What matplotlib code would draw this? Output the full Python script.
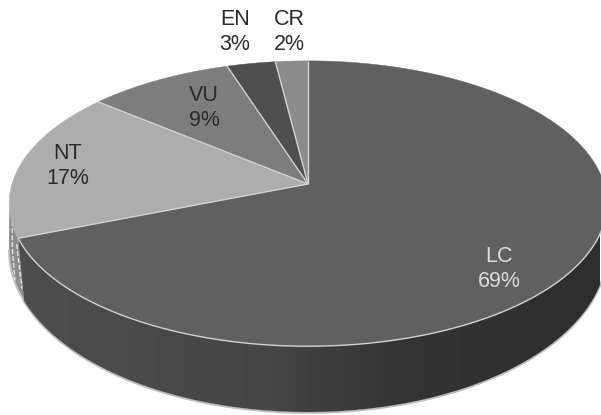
import numpy as np
import matplotlib
matplotlib.use("Agg")
import matplotlib.pyplot as plt
from matplotlib.colors import LinearSegmentedColormap
from matplotlib.patches import Polygon

# IUCN category shares, clockwise from twelve o'clock
categories = ["LC", "NT", "VU", "EN", "CR"]
shares = [69, 17, 9, 3, 2]
face_colors = ["#5f605f", "#adadad", "#7d7d7d", "#4f4f4f", "#8c8c8c"]
label_colors = ["#dcdcdc", "#2a2a2a", "#2a2a2a", "#2a2a2a", "#2a2a2a"]
label_anchor = [(499, 269), (68, 166), (204, 108), (235, 32), (289, 32)]

# Perspective of the tilted disc, in pixel units
APEX = (308.0, 184.0)
SCALE_X, SCALE_Y, TILT = 296.0, 140.0, 0.137
TOP_C = (308.0, 203.5)
TOP_R = (299.0, 142.5)
BOTTOM_C = (308.0, 250.0)
BOTTOM_R = (299.0, 162.0)
WALL_FOOT_X = 24.0  # where the LC wall meets the base ellipse on the left


def rim(frac):
    """Project a clockwise fraction of the disc onto the picture plane."""
    a = 2 * np.pi * np.asarray(frac, dtype=float)
    x, y = np.sin(a), np.cos(a)
    d = 1 + TILT * y
    return APEX[0] + SCALE_X * x / d, APEX[1] - SCALE_Y * y / d


def base(angle):
    """Point on the base ellipse; angle runs clockwise from the right extreme."""
    return (BOTTOM_C[0] + BOTTOM_R[0] * np.cos(angle),
            BOTTOM_C[1] + BOTTOM_R[1] * np.sin(angle))


fig = plt.figure(figsize=(6.01, 4.15), dpi=100, facecolor="white")
ax = fig.add_axes([0, 0, 1, 1])
ax.axis("off")

edges = np.cumsum([0] + shares) / sum(shares)
foot = np.pi - np.arcsin(np.sqrt(1 - ((WALL_FOOT_X - BOTTOM_C[0]) / BOTTOM_R[0]) ** 2))

# Front section of the rim carried by the LC wall
t = np.linspace(0.0, edges[1], 600)
rx, ry = rim(t)
front = ry >= TOP_C[1]
rim_lc = np.c_[rx[front], ry[front]]

# Side wall of the NT slice, mostly hidden behind the LC wall
t = np.linspace(edges[1], edges[1] + 0.035, 40)
rx, ry = rim(t)
front = ry >= TOP_C[1]
rim_nt = np.c_[rx[front], ry[front]]
ang = np.linspace(foot, np.pi, 60)
base_nt = np.c_[base(ang)]
ax.add_patch(Polygon(np.r_[rim_nt, base_nt[::-1]], closed=True,
                     fc="#8d8d8d", ec="none", zorder=1))
ax.plot(base_nt[:, 0], base_nt[:, 1] + 0.5, color="#c4c4c4", lw=1.4, zorder=2)

# Pale dashed traces inside the hidden wall
foot_pt = base_nt[0]
ax.plot([rim_lc[-1, 0] - 1.5, foot_pt[0] - 2], [rim_lc[-1, 1] + 6, foot_pt[1] - 12],
        color="#e2e2e2", lw=1.0, ls=(0, (3.5, 1.5)), zorder=2)
outer = rim_nt[-1]
ax.plot([outer[0] + 3, outer[0] + 3, foot_pt[0] - 9], [outer[1] + 8, outer[1] + 42, foot_pt[1] - 20],
        color="#e2e2e2", lw=1.0, ls=(0, (3.5, 1.5)), zorder=2)

# Shaded side wall of the LC slice
ang = np.linspace(0.0, foot, 400)
base_lc = np.c_[base(ang)]
wall_outline = Polygon(np.r_[rim_lc, base_lc[::-1]], closed=True,
                       fc="none", ec="none", transform=ax.transData)
ax.add_patch(wall_outline)
ax.plot(base_lc[:, 0], base_lc[:, 1] + 0.8, color="#bdbdbd", lw=1.5, zorder=2.5)
wall = LinearSegmentedColormap.from_list(
    "wall", [(0, "#4e4e4e"), (0.45, "#454545"), (0.65, "#343434"), (1, "#2e2e2e")])
shade = ax.imshow(np.linspace(0, 1, 256)[None, :], cmap=wall, aspect="auto",
                  extent=(10, 600, 415, 0), zorder=3, interpolation="bilinear")
shade.set_clip_path(wall_outline)

# Top face, with pale seams only between slices and along the front rim
for i, color in enumerate(face_colors):
    t = np.linspace(edges[i], edges[i + 1], 200)
    rx, ry = rim(t)
    ax.add_patch(Polygon(np.r_[[APEX], np.c_[rx, ry]], closed=True, fc=color,
                         ec=color, lw=0.3, zorder=4))
for frac in edges[:-1]:
    rx, ry = rim(frac)
    ax.plot([APEX[0], rx], [APEX[1], ry], color="#d2d2d2", lw=1.0, zorder=4.5,
            solid_capstyle="butt")
ax.plot(rim_lc[:, 0], rim_lc[:, 1], color="#d0d0d0", lw=1.0, zorder=4.5)

# Labels
for name, share, color, (x, y) in zip(categories, shares, label_colors, label_anchor):
    ax.text(x, y, f"{name}\n{share}%", ha="center", va="center", color=color,
            fontsize=15.5, family="Liberation Sans", linespacing=1.2, zorder=5)

ax.set_xlim(0, 601)
ax.set_ylim(415, 0)
fig.savefig("out.png", dpi=100)
